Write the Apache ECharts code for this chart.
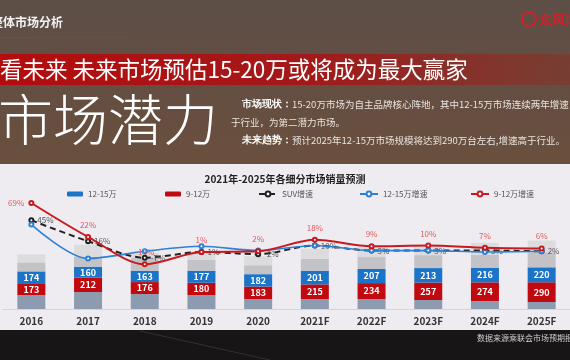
<!DOCTYPE html>
<html><head><meta charset="utf-8">
<script src="https://cdn.jsdelivr.net/npm/echarts@6/dist/echarts.min.js"></script>
<style>html,body{margin:0;padding:0;background:#161414}#c{width:570px;height:360px}</style>
</head><body><div id="c"></div>
<script>
const categories = ['2016','2017','2018','2019','2020','2021F','2022F','2023F','2024F','2025F'];
const salesOther = [206,250,220,206,147,147,147,132,118,103];
const sales9to12 = [173,212,176,180,183,215,234,257,274,290];
const sales12to15 = [174,160,163,177,182,201,207,213,216,220];
const sales15to20 = [132,147,190,162,132,176,176,190,190,220];
const salesAbove20 = [118,176,74,118,132,147,147,147,176,176];
const suvGrowth = [45,16,-7,1,-2,10,3,3,3,2];
const growth12to15 = [39,-8,2,9,3,10,3,3,1,2];
const growth9to12 = [69,22,-16,1,2,18,9,10,7,6];

const FONT = '"Noto Sans CJK SC","Noto Sans",sans-serif';
const chart = echarts.init(document.getElementById('c'));

const redData = growth9to12.map((v,i)=> i===0 ? {value:v,label:{position:'left',distance:4}} : v);

chart.setOption({
  backgroundColor:'#efecf1',
  animation:false,
  textStyle:{fontFamily:FONT},
  title:{text:'2021年-2025年各细分市场销量预测',left:'center',top:169,textStyle:{fontSize:10,fontWeight:'bold',color:'#222',fontFamily:FONT}},
  legend:[
    {data:['12-15万'],left:62,top:185,itemWidth:16,itemHeight:5,textStyle:{fontSize:8,color:'#555'}},
    {data:['9-12万'],left:160,top:185,itemWidth:16,itemHeight:5,textStyle:{fontSize:8,color:'#555'}},
    {data:['SUV增速'],left:253,top:185,itemWidth:18,itemHeight:6,textStyle:{fontSize:8,color:'#555'}},
    {data:['12-15万增速'],left:354,top:185,itemWidth:18,itemHeight:6,textStyle:{fontSize:8,color:'#555'}},
    {data:['9-12万增速'],left:465,top:185,itemWidth:18,itemHeight:6,textStyle:{fontSize:8,color:'#555'}}
  ],
  grid:{left:3,width:572,top:190,height:119,containLabel:false},
  xAxis:{type:'category',data:categories,boundaryGap:true,
    axisLine:{lineStyle:{color:'#d6d4d8',width:1}},axisTick:{show:false},
    axisLabel:{color:'#333',fontSize:10,fontWeight:'bold',margin:7,interval:0}},
  yAxis:[
    {type:'value',min:0,max:1750,show:false,splitLine:{show:false}},
    {type:'value',min:-78,max:87,show:false,splitLine:{show:false}}
  ],
  series:[
    {name:'其他',type:'bar',stack:'s',barWidth:28,data:salesOther,itemStyle:{color:'#8d9bb1'}},
    {name:'9-12万',type:'bar',stack:'s',barWidth:28,data:sales9to12,itemStyle:{color:'#c10a0f'},
      label:{show:true,position:'inside',color:'#fff',fontSize:9,fontWeight:'bold'}},
    {name:'12-15万',type:'bar',stack:'s',barWidth:28,data:sales12to15,itemStyle:{color:'#1c74c8'},
      label:{show:true,position:'inside',color:'#fff',fontSize:9,fontWeight:'bold'}},
    {name:'15-20万',type:'bar',stack:'s',barWidth:28,data:sales15to20,itemStyle:{color:'#c3c2c6'}},
    {name:'20万以上',type:'bar',stack:'s',barWidth:28,data:salesAbove20,itemStyle:{color:'#dcdbde'}},
    {name:'SUV增速',type:'line',yAxisIndex:1,data:suvGrowth,smooth:0.3,symbol:'emptyCircle',symbolSize:4,z:5,
      lineStyle:{color:'#222',width:2,type:[6,4]},itemStyle:{color:'#222'},
      label:{show:true,position:'right',distance:3,color:'#555',fontSize:8,formatter:'{c}%'}},
    {name:'12-15万增速',type:'line',yAxisIndex:1,data:growth12to15,smooth:0.3,symbol:'emptyCircle',symbolSize:4,z:6,
      lineStyle:{color:'#2d80d6',width:1.6},itemStyle:{color:'#2d80d6'}},
    {name:'9-12万增速',type:'line',yAxisIndex:1,data:redData,smooth:0.3,symbol:'emptyCircle',symbolSize:4,z:7,
      lineStyle:{color:'#c8191e',width:2},itemStyle:{color:'#c8191e'},
      label:{show:true,position:'top',distance:5,color:'#e05a5a',fontSize:8,formatter:'{c}%'}}
  ],
  graphic:[
    {type:'rect',z:-10,shape:{x:0,y:0,width:570,height:164},style:{fill:new echarts.graphic.LinearGradient(0,0,0,1,[{offset:0,color:'#5d4e47'},{offset:1,color:'#6a4f3d'}])}},
    {type:'rect',z:-10,shape:{x:0,y:330,width:570,height:30},style:{fill:'#171515'}},
    {type:'line',z:-9,shape:{x1:140,y1:331,x2:270,y2:360},style:{stroke:'rgba(255,255,255,0.12)',lineWidth:1}},
    {type:'rect',z:-9,shape:{x:0,y:37,width:240,height:1},style:{fill:new echarts.graphic.LinearGradient(0,0,1,0,[{offset:0,color:'#c8262a'},{offset:1,color:'rgba(200,38,42,0)'}])}},
    {type:'text',z:10,style:{text:'整体市场分析',x:-9,y:22,font:'bold 12px '+FONT,fill:'#f2f2f2',textVerticalAlign:'middle'}},
    {type:'circle',z:10,shape:{cx:529,cy:19,r:7},style:{fill:'none',stroke:'#d0202a',lineWidth:2}},
    {type:'text',z:10,style:{text:'东风汽',x:539,y:19,font:'bold 13px '+FONT,fill:'#d0202a',textVerticalAlign:'middle'}},
    {type:'rect',z:-9,shape:{x:0,y:54,width:570,height:31},style:{fill:new echarts.graphic.LinearGradient(0,0,1,0,[{offset:0,color:'#b40c0d'},{offset:0.55,color:'#a3191a'},{offset:1,color:'rgba(140,45,35,0.5)'}])}},
    {type:'text',z:10,style:{text:'看未来 未来市场预估15-20万或将成为最大赢家',x:0,y:69,font:'22.5px '+FONT,fill:'#ffffff',textVerticalAlign:'middle'}},
    {type:'text',z:10,style:{text:'市场潜力',x:-2,y:119,font:'300 55px '+FONT,fill:'#ffffff',textVerticalAlign:'middle'}},
    {type:'text',z:10,style:{text:'{b|市场现状：}15-20万市场为自主品牌核心阵地，其中12-15万市场连续两年增速',x:242,y:104,font:'9.5px '+FONT,fill:'#e8e2de',textVerticalAlign:'middle',rich:{b:{fontWeight:'bold',fill:'#ffffff',fontSize:9.5}}}},
    {type:'text',z:10,style:{text:'于行业，为第二潜力市场。',x:231,y:122,font:'9.5px '+FONT,fill:'#e8e2de',textVerticalAlign:'middle'}},
    {type:'text',z:10,style:{text:'{b|未来趋势：}预计2025年12-15万市场规模将达到290万台左右,增速高于行业。',x:242,y:140,font:'9.5px '+FONT,fill:'#e8e2de',textVerticalAlign:'middle',rich:{b:{fontWeight:'bold',fill:'#ffffff',fontSize:9.5}}}},
    {type:'text',z:10,style:{text:'数据来源乘联会市场预期报告',x:477,y:338,font:'8px '+FONT,fill:'#cfcfcf',textVerticalAlign:'middle'}}
  ]
});
</script></body></html>
